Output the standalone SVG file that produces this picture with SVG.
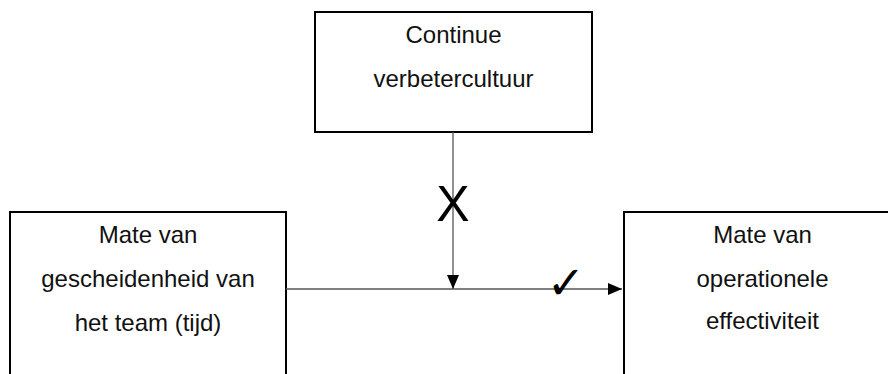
<svg xmlns="http://www.w3.org/2000/svg" width="888" height="374" viewBox="0 0 888 374">
<style>
.box{fill:#fff;stroke:#000;stroke-width:2}
.t{font-family:"Liberation Sans",Arial,sans-serif;font-size:24px;fill:#111;text-anchor:middle}
.c{stroke:#555;stroke-width:1.3;fill:none}
</style>
<defs>
<marker id="ah" viewBox="0 0 14 12" refX="14" refY="6" markerWidth="14" markerHeight="12" markerUnits="userSpaceOnUse" orient="auto">
<path d="M0,0 L14,6 L0,12 Z" fill="#000"/>
</marker>
</defs>
<rect width="888" height="374" fill="#fff"/>
<g id="node-culture">
<rect class="box" x="315" y="12" width="277" height="120"/>
<text class="t" x="453.5" y="43">Continue</text>
<text class="t" x="453.5" y="87">verbetercultuur</text>
</g>
<g id="node-separation">
<rect class="box" x="10" y="212" width="276" height="180"/>
<text class="t" x="148" y="243">Mate van</text>
<text class="t" x="148" y="287">gescheidenheid van</text>
<text class="t" x="148" y="331">het team (tijd)</text>
</g>
<g id="node-effectiveness">
<rect class="box" x="624" y="212" width="280" height="180"/>
<text class="t" x="762.5" y="243">Mate van</text>
<text class="t" x="762.5" y="287">operationele</text>
<text class="t" x="762.5" y="329">effectiviteit</text>
</g>
<g id="connectors">
<line class="c" x1="286" y1="289" x2="622" y2="289" marker-end="url(#ah)"/>
<line class="c" x1="453" y1="132" x2="453" y2="289" marker-end="url(#ah)"/>
<text x="453" y="221" style="font-family:'Liberation Sans',Arial,sans-serif;font-size:50px;text-anchor:middle;fill:#000">X</text>
<text x="566" y="299" style="font-family:'DejaVu Sans',sans-serif;font-size:46px;font-weight:bold;text-anchor:middle;fill:#000">✓</text>
</g>
</svg>
